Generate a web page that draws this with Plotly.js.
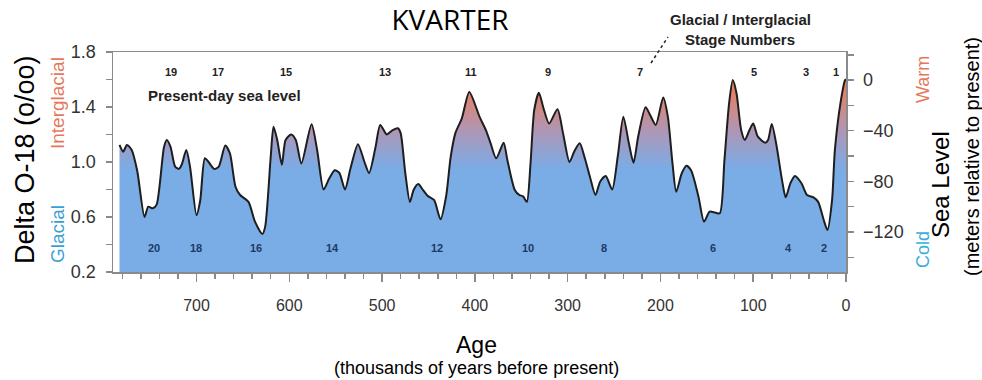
<!DOCTYPE html>
<html>
<head>
<meta charset="utf-8">
<script src="https://cdn.plot.ly/plotly-3.0.1.min.js"></script>
<style>html,body{margin:0;padding:0;background:#fff;}#chart{width:982px;height:380px;}</style>
</head>
<body>
<div id="chart"></div>
<script>
// Age (thousands of years before present)
const ages = [783,779,775,770,764,756,752,747,743,735,732,728,723,719,716,711,707,700,696,691,687,681,676,669,664,658,653,644,637,629,626,620,617,613,608,604,598,593,587,576,570,563,557,551,546,540,534,526,519,514,507,502,495,489,483,480,475,470,466,461,456,451,444,437,431,426,421,414,406,395,388,383,377,369,365,357,352,348,344,340,336,331,326,320,311,305,298,293,287,282,276,270,265,259,252,246,240,234,229,224,216,211,205,197,192,187,183,177,172,167,159,153,147,141,136,131,126,122,118,113,109,104,100,95,87,84,80,75,69,65,60,55,48,42,35,30,24,20,15,12,6,1,0];
// Delta O-18 (o/oo)
const delta18O = [1.124,1.075,1.124,1.09,0.94,0.60,0.675,0.663,0.69,1.11,1.16,1.11,0.966,0.95,0.98,1.087,0.966,0.614,0.72,1.027,1.0,0.95,0.966,1.12,1.063,0.82,0.76,0.71,0.566,0.476,0.53,1.04,1.257,1.16,0.98,1.16,1.2,1.16,0.99,1.274,1.087,0.80,0.88,0.94,0.92,0.80,0.954,1.13,1.0,0.92,1.11,1.27,1.2,1.23,1.245,1.21,0.92,0.71,0.797,0.84,0.797,0.755,0.724,0.583,0.75,1.04,1.21,1.318,1.51,1.33,1.23,1.136,1.027,1.14,1.015,0.797,0.76,0.75,0.71,0.99,1.378,1.504,1.39,1.28,1.383,1.21,1.0,1.075,1.136,1.04,0.893,0.76,0.857,0.898,0.80,1.04,1.33,1.136,0.995,1.184,1.398,1.34,1.27,1.47,1.33,0.99,0.784,0.918,0.973,0.94,0.748,0.566,0.639,0.632,0.627,1.015,1.427,1.596,1.50,1.233,1.16,1.233,1.28,1.184,1.14,1.16,1.276,1.124,0.87,0.743,0.845,0.898,0.845,0.76,0.743,0.71,0.578,0.505,0.724,1.087,1.427,1.596,1.60];

// Interglacial (odd) and glacial (even) stage numbers and the ages where they are labelled
const interglacialStages = ['19','17','15','13','11','9','7','5','3','1'];
const interglacialAges = [728,677,604,497,404,321,222,99,43,11];
const glacialStages = ['20','18','16','14','12','10','8','6','4','2'];
const glacialAges = [746,701,636,553,441,343,261,143,62,24];

const FONT = 'Liberation Sans, Arial, sans-serif';
const AX = '#8a8a8a';

const traces = [
  {
    type: 'scatter', x: ages, y: delta18O, mode: 'lines',
    line: {color: '#1e1e1e', width: 2, shape: 'spline', smoothing: 0.7},
    fill: 'tozeroy',
    fillgradient: {
      type: 'vertical', start: 0.95, stop: 1.52,
      colorscale: [[0, 'rgb(122,172,230)'], [0.45, 'rgb(170,152,186)'], [1, 'rgb(232,128,100)']]
    },
    hoverinfo: 'skip', showlegend: false
  },
  {type: 'scatter', x: [], y: [], yaxis: 'y2', mode: 'lines', showlegend: false, hoverinfo: 'skip'}
];

const px = x => (x - 113) / 733;
const py = y => (272 - y) / 220;

const annotations = [];
function addText(text, x, y, size, color, angle, weight) {
  annotations.push({
    text: text, xref: 'paper', yref: 'paper', x: px(x), y: py(y),
    xanchor: 'center', yanchor: 'middle', showarrow: false, textangle: angle || 0,
    font: {family: FONT, size: size, color: color, weight: weight || 'normal'}
  });
}
interglacialStages.forEach((s, i) => annotations.push({
  text: s, x: interglacialAges[i], y: 1.658, xref: 'x', yref: 'y', showarrow: false,
  xanchor: 'center', yanchor: 'middle', font: {family: FONT, size: 11, color: '#222', weight: 'bold'}
}));
glacialStages.forEach((s, i) => annotations.push({
  text: s, x: glacialAges[i], y: 0.375, xref: 'x', yref: 'y', showarrow: false,
  xanchor: 'center', yanchor: 'middle', font: {family: FONT, size: 11, color: '#1c3a66', weight: 'bold'}
}));

addText('Delta O-18 (o/oo)', 25, 160, 27, '#000', -90);
addText('Interglacial', 57, 103, 19, '#e5785c', -90);
addText('Glacial', 57, 234, 19, '#3b9fd6', -90);
addText('Warm', 923, 80, 18, '#e5785c', -90);
addText('Cold', 923, 250, 18, '#3aaed8', -90);
addText('Sea Level', 940, 184, 24, '#000', -90);
addText('(meters relative to present)', 972, 157, 20, '#000', -90);
addText('Age', 476, 345, 23, '#000');
addText('(thousands of years before present)', 476, 368, 18, '#000');
addText('Present-day sea level', 224, 95, 15, '#222', 0, 'bold');
addText('Glacial / Interglacial', 740, 19, 15, '#222', 0, 'bold');
addText('Stage Numbers', 740, 39, 15, '#222', 0, 'bold');

const layout = {
  width: 982, height: 380,
  margin: {l: 113, r: 136, t: 52, b: 108},
  paper_bgcolor: '#fff', plot_bgcolor: '#fff', showlegend: false,
  title: {
    text: 'KVARTER', font: {family: 'Open Sans, sans-serif', size: 28, color: '#000'},
    xref: 'container', yref: 'container', x: 450 / 982, xanchor: 'center', y: 1 - 20 / 380, yanchor: 'middle'
  },
  font: {family: FONT},
  xaxis: {
    range: [790, 0], tickmode: 'linear', tick0: 0, dtick: 100,
    ticks: 'outside', ticklen: 8, tickwidth: 1.5, tickcolor: AX,
    showline: true, linecolor: AX, linewidth: 1.5, mirror: true,
    showgrid: false, zeroline: false, ticklabelstandoff: 10,
    tickfont: {family: FONT, size: 16, color: '#333'},
    minor: {tickmode: 'linear', tick0: 0, dtick: 20, ticks: 'outside', ticklen: 5, tickwidth: 1.5, tickcolor: AX, showgrid: false}
  },
  yaxis: {
    range: [0.2, 1.8], tickmode: 'linear', tick0: 0.2, dtick: 0.4, tickformat: '.1f',
    ticks: 'outside', ticklen: 6, tickwidth: 1.5, tickcolor: AX,
    showline: true, linecolor: AX, linewidth: 1.5,
    showgrid: false, zeroline: false, ticklabelstandoff: 6,
    tickfont: {family: FONT, size: 18, color: '#333'},
    minor: {tickmode: 'linear', tick0: 0.2, dtick: 0.2, ticks: 'outside', ticklen: 6, tickwidth: 1.5, tickcolor: AX, showgrid: false}
  },
  yaxis2: {
    overlaying: 'y', side: 'right', anchor: 'x',
    range: [-151.6, 22.2], tickmode: 'linear', tick0: 0, dtick: 40,
    ticks: 'outside', ticklen: 6, tickwidth: 1.5, tickcolor: AX,
    showline: true, linecolor: AX, linewidth: 1.5,
    showgrid: false, zeroline: false, ticklabelstandoff: 6,
    tickfont: {family: FONT, size: 18, color: '#333'},
    minor: {tickmode: 'linear', tick0: 0, dtick: 20, ticks: 'outside', ticklen: 6, tickwidth: 1.5, tickcolor: AX, showgrid: false}
  },
  shapes: [
    {type: 'line', xref: 'paper', yref: 'paper', x0: px(651), y0: py(63), x1: px(668), y1: py(37),
     line: {color: '#222', width: 1.5, dash: 'dot'}}
  ],
  annotations: annotations
};

Plotly.newPlot('chart', traces, layout, {staticPlot: true, displayModeBar: false});
</script>
</body>
</html>
